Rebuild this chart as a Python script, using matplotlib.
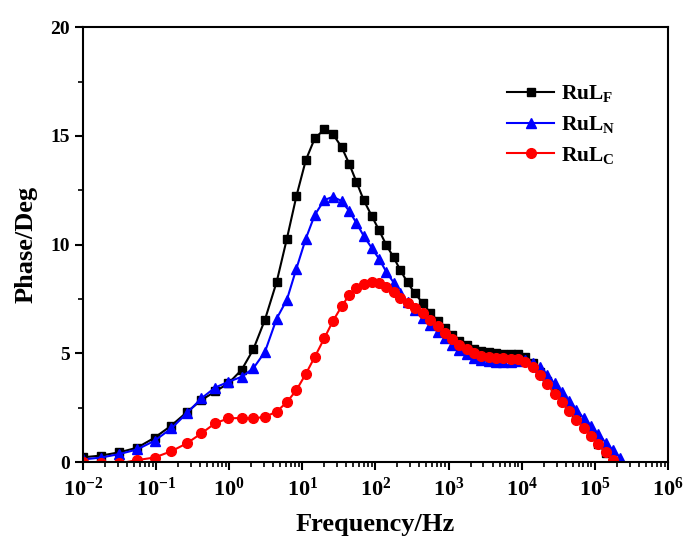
import math

import matplotlib
matplotlib.use('Agg')
import matplotlib.pyplot as plt
from matplotlib.ticker import FuncFormatter, LogLocator, MultipleLocator, NullFormatter

# frequency grid (Hz), shared by the three samples
freq = [0.01, 0.0178, 0.0316, 0.055, 0.0955, 0.162, 0.263, 0.417, 0.646, 0.977,
        1.48, 2.14, 3.09, 4.47, 6.17, 8.32, 11.2, 14.8, 20.0, 26.3,
        34.7, 43.7, 55.0, 69.2, 89.1, 112, 141, 178, 219, 275,
        347, 447, 562, 708, 891, 1122, 1413, 1778, 2239, 2818,
        3548, 4467, 5623, 7079, 8913, 11220, 14125, 17783, 22387, 28184,
        35481, 44668, 56234, 70795, 89125, 112202, 141254, 177828, 223872]

phase_F = [0.22, 0.30, 0.45, 0.66, 1.12, 1.68, 2.29, 2.85, 3.25, 3.62,
           4.24, 5.18, 6.55, 8.29, 10.28, 12.23, 13.89, 14.88, 15.30, 15.08,
           14.47, 13.73, 12.89, 12.05, 11.32, 10.67, 9.98, 9.41, 8.83, 8.26,
           7.76, 7.30, 6.87, 6.50, 6.15, 5.85, 5.58, 5.38, 5.22, 5.12,
           5.05, 5.00, 4.98, 4.97, 4.95, 4.82, 4.55, 4.15, 3.72, 3.30,
           2.88, 2.46, 2.05, 1.65, 1.25, 0.85, 0.42]

phase_N = [0.12, 0.21, 0.37, 0.58, 0.98, 1.55, 2.24, 2.93, 3.43, 3.69,
           3.92, 4.31, 5.07, 6.60, 7.47, 8.90, 10.28, 11.36, 12.05, 12.20,
           12.00, 11.55, 11.00, 10.40, 9.85, 9.35, 8.75, 8.25, 7.76, 7.37,
           6.99, 6.62, 6.30, 6.00, 5.70, 5.40, 5.15, 4.95, 4.80, 4.70,
           4.63, 4.60, 4.60, 4.62, 4.66, 4.68, 4.55, 4.35, 4.00, 3.62,
           3.23, 2.82, 2.40, 2.02, 1.65, 1.28, 0.90, 0.55, 0.18]

phase_C = [0.02, -0.03, -0.06, 0.09, 0.21, 0.50, 0.86, 1.32, 1.79, 2.01,
           2.03, 2.01, 2.08, 2.32, 2.76, 3.31, 4.06, 4.83, 5.69, 6.49,
           7.17, 7.68, 8.02, 8.20, 8.28, 8.22, 8.06, 7.83, 7.53, 7.30,
           7.07, 6.84, 6.55, 6.25, 5.95, 5.65, 5.40, 5.18, 5.02, 4.90,
           4.83, 4.79, 4.77, 4.76, 4.72, 4.62, 4.38, 4.00, 3.58, 3.15,
           2.75, 2.35, 1.95, 1.58, 1.20, 0.82, 0.45, 0.08]

x_ticks = [1e-2, 1e-1, 1e0, 1e1, 1e2, 1e3, 1e4, 1e5, 1e6]

plt.rcParams['font.family'] = ['Liberation Serif', 'DejaVu Serif']
plt.rcParams['font.weight'] = 'bold'
plt.rcParams['mathtext.fontset'] = 'custom'
plt.rcParams['mathtext.rm'] = 'Liberation Serif:bold'
plt.rcParams['mathtext.it'] = 'Liberation Serif:bold'
plt.rcParams['mathtext.bf'] = 'Liberation Serif:bold'

fig = plt.figure(figsize=(6.85, 5.43), dpi=100)
ax = fig.add_axes([0.121, 0.149, 0.854, 0.801])

ax.plot(freq[:len(phase_F)], phase_F, '-s', color='black', lw=1.5, ms=6,
        label=r'RuL$_\mathrm{F}$')
ax.plot(freq[:len(phase_N)], phase_N, '-^', color='blue', lw=1.5, ms=7.5,
        label=r'RuL$_\mathrm{N}$')
ax.plot(freq[:len(phase_C)], phase_C, '-o', color='red', lw=1.5, ms=7,
        label=r'RuL$_\mathrm{C}$')

ax.set_xscale('log')
ax.set_xlim(1e-2, 1e6)
ax.set_ylim(0, 20)
ax.set_xticks(x_ticks)
ax.xaxis.set_major_formatter(FuncFormatter(
    lambda v, pos: r'$\mathrm{10^{%d}}$' % round(math.log10(v))))
ax.xaxis.set_minor_locator(LogLocator(base=10, subs=range(2, 10), numticks=100))
ax.xaxis.set_minor_formatter(NullFormatter())
ax.yaxis.set_major_locator(MultipleLocator(5))
ax.yaxis.set_minor_locator(MultipleLocator(2.5))

for side in ax.spines.values():
    side.set_linewidth(1.5)
ax.tick_params(which='major', direction='out', length=6, width=1.5,
               labelsize=14, top=False, right=False)
ax.tick_params(which='minor', direction='out', length=3.5, width=1.2,
               top=False, right=False)
ax.tick_params(axis='x', which='major', labelsize=16, pad=5)

ax.set_xlabel('Frequency/Hz', fontsize=19, fontweight='bold', labelpad=9)
ax.set_ylabel('Phase/Deg', fontsize=19, fontweight='bold', labelpad=9)

ax.legend(loc='upper right', bbox_to_anchor=(0.943, 0.915), frameon=False,
          fontsize=15.5, handlelength=2.2, handletextpad=0.3, labelspacing=0.45)

fig.savefig('out.png', dpi=100)
